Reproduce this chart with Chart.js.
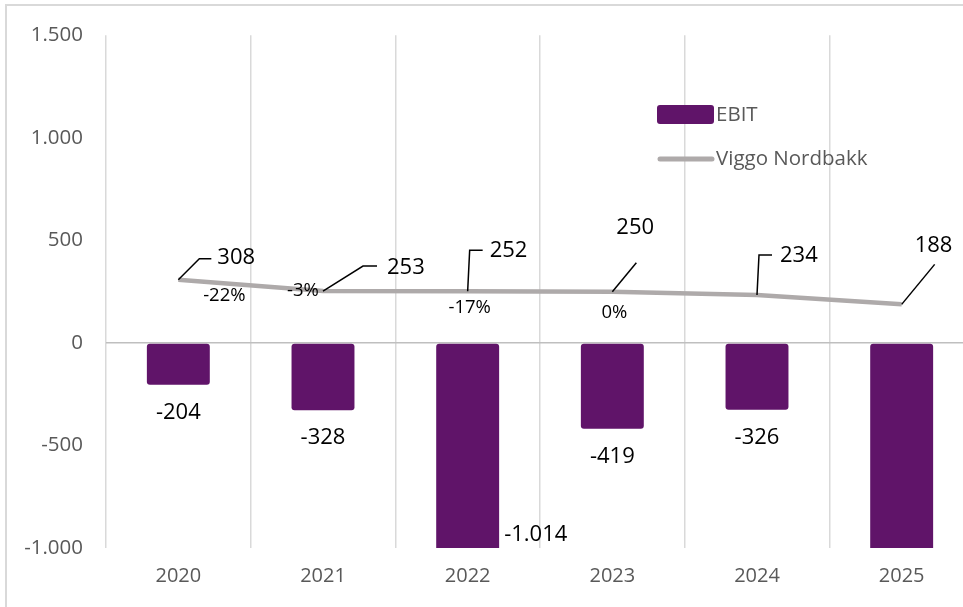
<!DOCTYPE html>
<html>
<head>
<meta charset="utf-8">
<script src="https://cdn.jsdelivr.net/npm/chart.js@4.4.1/dist/chart.umd.min.js"></script>
<style>
  body { margin: 0; background: #fff; }
  #wrap { position: relative; width: 963px; height: 607px; overflow: hidden; background: #fff; }
  #frame { position: absolute; left: 5px; top: 4px; width: 2000px; height: 2000px; border: 2px solid #d9d9d9; box-sizing: border-box; }
  #myChart { position: absolute; left: 0; top: 0; }
</style>
</head>
<body>
<div id="wrap">
  <div id="frame"></div>
  <canvas id="myChart" width="990" height="607"></canvas>
</div>
<script>
// data
const years = ['2020', '2021', '2022', '2023', '2024', '2025'];
const ebit = [-204, -328, -1014, -419, -326, -1150];
const ebitLabelShown = [true, true, true, true, true, false];
const viggo = [308, 253, 252, 250, 234, 188];
const changes = ['-22%', '-3%', '-17%', '0%', null, null];
const yTicks = [-1000, -500, 0, 500, 1000, 1500];

const barColor = '#601469';
const lineColor = '#aeaaaa';
const FONT = "'Open Sans', sans-serif";

function fmt(v) {
    var s = String(Math.abs(Math.round(v)));
    s = s.replace(/\B(?=(\d{3})+(?!\d))/g, '.');
    return (v < 0 ? '-' : '') + s;
}

// where the leader lines and labels sit, relative to each line point
var leaders = [
    { path: [[0, 0], [21, -21], [33, -21]], text: [39, -22] },
    { path: [[0, 0], [40, -25], [54, -25]], text: [64, -23] },
    { path: [[0, 0], [2, -41], [15, -41]], text: [22, -41] },
    { path: [[0, 0], [24, -29]], text: [4, -64] },
    { path: [[0, 0], [2, -40], [15, -40]], text: [23, -39] },
    { path: [[0, 0], [33, -40]], text: [13, -59] }
];
var changeOffsets = [[46, 16], [-20, 0], [2, 16], [2, 21]];

const labelPlugin = {
    id: 'labels',
    afterDatasetsDraw(chart) {
        const ctx = chart.ctx;
        const area = chart.chartArea;
        ctx.save();
        ctx.fillStyle = '#000';
        ctx.textBaseline = 'middle';

        // bar values
        ctx.font = '22px ' + FONT;
        chart.getDatasetMeta(0).data.forEach((bar, i) => {
            if (!ebitLabelShown[i]) return;
            var v = ebit[i];
            if (bar.y > area.bottom) {
                ctx.textAlign = 'left';
                ctx.fillText(fmt(v), bar.x + bar.width / 2 + 5, area.bottom - 13);
            } else {
                ctx.textAlign = 'center';
                ctx.fillText(fmt(v), bar.x, bar.y + 28);
            }
        });

        // line values with leader lines
        ctx.strokeStyle = '#000';
        ctx.lineWidth = 1.5;
        chart.getDatasetMeta(1).data.forEach((pt, i) => {
            var l = leaders[i];
            ctx.beginPath();
            l.path.forEach((p, k) => {
                if (k == 0) ctx.moveTo(pt.x + p[0], pt.y + p[1]);
                else ctx.lineTo(pt.x + p[0], pt.y + p[1]);
            });
            ctx.stroke();
            ctx.textAlign = 'left';
            ctx.font = '22px ' + FONT;
            ctx.fillText(fmt(viggo[i]), pt.x + l.text[0], pt.y + l.text[1]);
        });

        // change labels
        ctx.font = '18.5px ' + FONT;
        ctx.textAlign = 'center';
        chart.getDatasetMeta(1).data.forEach((pt, i) => {
            if (!changes[i]) return;
            var o = changeOffsets[i];
            ctx.fillText(changes[i], pt.x + o[0], pt.y + o[1]);
        });

        // legend
        ctx.fillStyle = barColor;
        ctx.beginPath();
        ctx.roundRect(657, 105, 57, 19, 3);
        ctx.fill();
        ctx.strokeStyle = lineColor;
        ctx.lineWidth = 5;
        ctx.lineCap = 'round';
        ctx.beginPath();
        ctx.moveTo(660, 159);
        ctx.lineTo(712, 159);
        ctx.stroke();
        ctx.fillStyle = '#595959';
        ctx.font = '20.5px ' + FONT;
        ctx.textAlign = 'left';
        ctx.fillText(chart.data.datasets[0].label, 716, 115);
        ctx.fillText(chart.data.datasets[1].label, 716, 159);
        ctx.restore();
    }
};

var ctx = document.getElementById('myChart').getContext('2d');
var myChart = new Chart(ctx, {
    type: 'bar',
    data: {
        labels: years,
        datasets: [{
            label: 'EBIT',
            data: ebit,
            backgroundColor: barColor,
            borderRadius: 3,
            borderSkipped: false,
            categoryPercentage: 1,
            barPercentage: 0.435,
            order: 1
        }, {
            type: 'line',
            label: 'Viggo Nordbakk',
            data: viggo,
            borderColor: lineColor,
            borderWidth: 4.5,
            pointRadius: 0,
            tension: 0,
            order: 0
        }]
    },
    options: {
        responsive: false,
        animation: false,
        layout: { padding: { top: 33, right: 16, left: 0, bottom: 0 } },
        plugins: {
            legend: { display: false },
            tooltip: { enabled: false }
        },
        scales: {
            x: {
                offset: true,
                grid: { offset: true, color: '#d9d9d9', lineWidth: 1.5, drawTicks: false },
                border: { display: false },
                ticks: { color: '#595959', font: { family: FONT, size: 20 }, padding: 16 },
                afterFit: function (s) { s.height = 59; }
            },
            y: {
                min: -1000,
                max: 1500,
                afterBuildTicks: function (s) { s.ticks = yTicks.map(v => ({ value: v })); },
                grid: {
                    drawTicks: false,
                    color: c => (c.tick && c.tick.value === 0) ? '#bfbfbf' : 'rgba(0,0,0,0)',
                    lineWidth: 1.5
                },
                border: { display: false },
                ticks: {
                    color: '#595959',
                    font: { family: FONT, size: 20.5 },
                    padding: 23,
                    callback: v => fmt(v)
                },
                afterFit: function (s) { s.width = 106; }
            }
        }
    },
    plugins: [labelPlugin]
});
</script>
</body>
</html>
